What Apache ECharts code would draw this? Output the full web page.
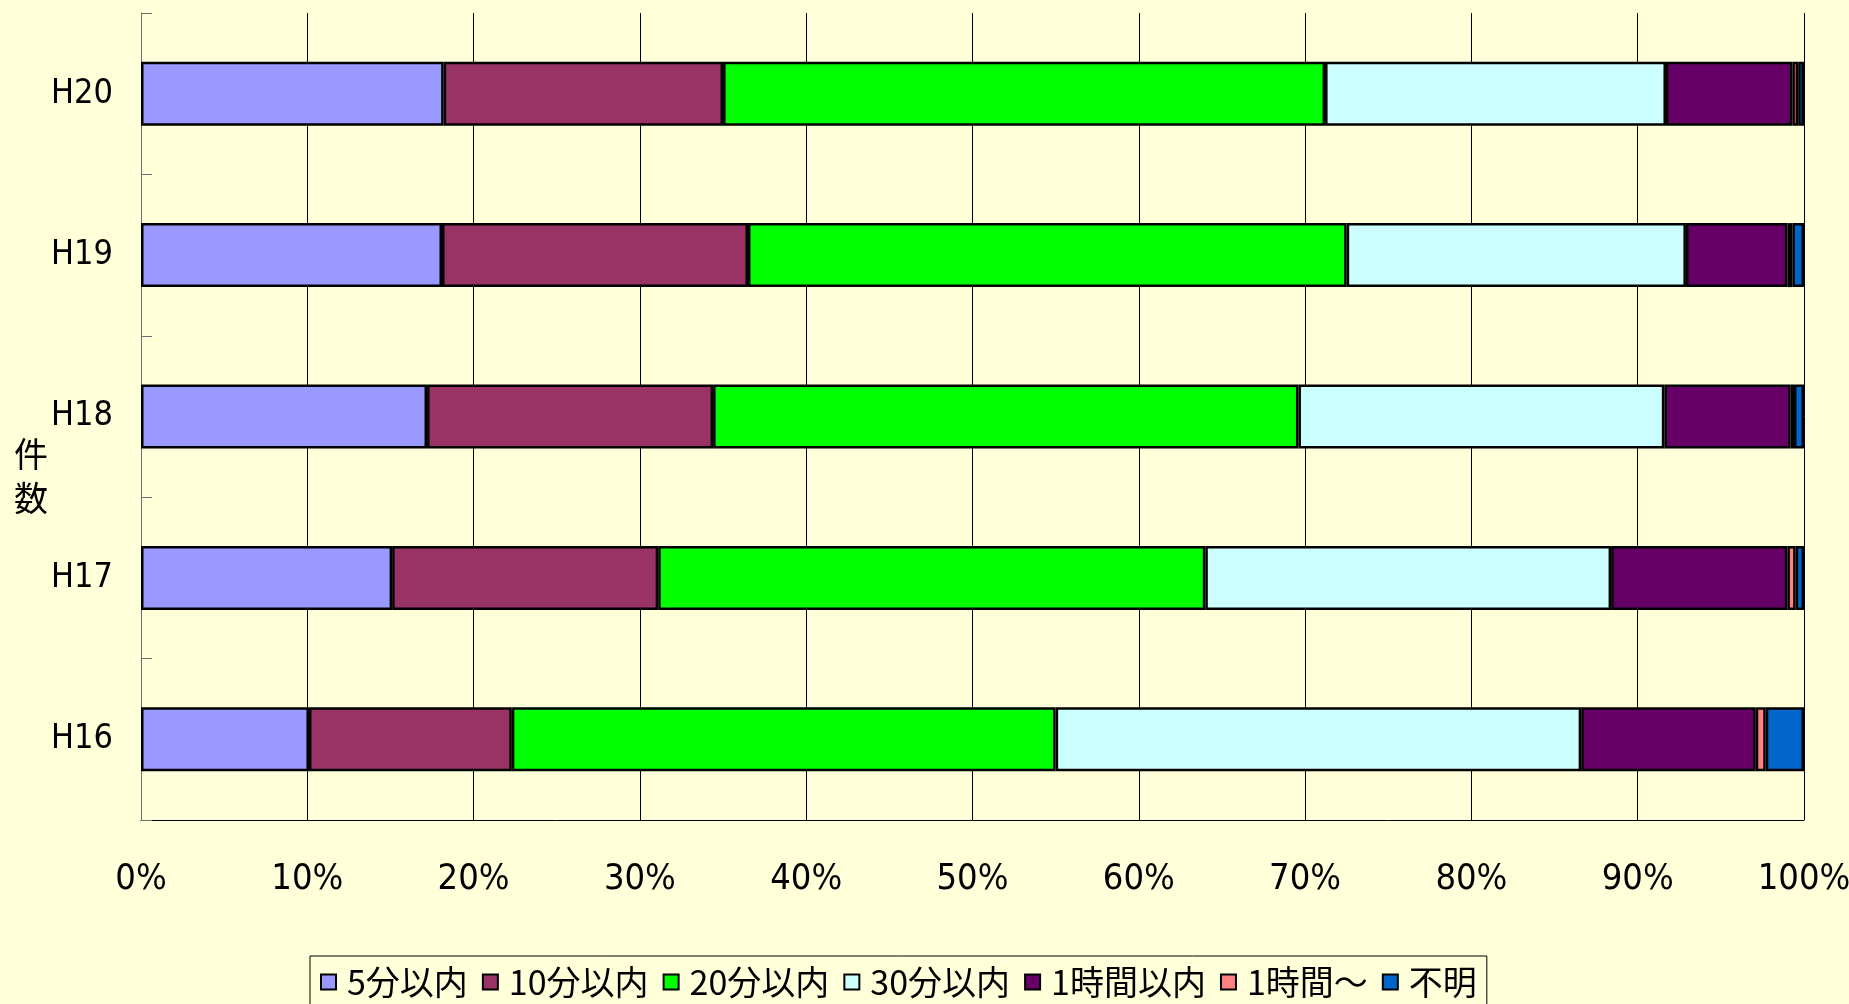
<!DOCTYPE html>
<html><head><meta charset="utf-8">
<script src="https://cdn.jsdelivr.net/npm/echarts@6/dist/echarts.min.js"></script>
<style>html,body{margin:0;padding:0;background:#FFFFDA;}#c{width:1849px;height:1004px;}</style>
</head><body><div id="c"></div>
<script>
const categories = ['H16','H17','H18','H19','H20'];
const seriesNames = ['5分以内','10分以内','20分以内','30分以内','1時間以内','1時間～','不明'];
const v5min   = [10.1, 15.1, 17.2, 18.1, 18.2];
const v10min  = [12.2, 16.0, 17.2, 18.4, 16.8];
const v20min  = [32.7, 32.9, 35.2, 36.0, 36.2];
const v30min  = [31.6, 24.4, 22.0, 20.4, 20.5];
const v1hIn   = [10.5, 10.6, 7.6, 6.1, 7.6];
const v1hOver = [0.6, 0.5, 0.2, 0.3, 0.35];
const vUnknown= [2.3, 0.5, 0.6, 0.7, 0.35];
const xTicks = [0,10,20,30,40,50,60,70,80,90,100];
const colors = ['#9999FF','#993366','#00FF00','#CCFFFF','#660066','#FF8080','#0066CC'];
const allData = [v5min, v10min, v20min, v30min, v1hIn, v1hOver, vUnknown];

const narrow = '"Liberation Sans Narrow","DejaVu Sans Condensed","Liberation Sans",sans-serif';
const chart = echarts.init(document.getElementById('c'));
chart.setOption({
  backgroundColor: '#FFFFDA',
  animation: false,
  color: colors,
  grid: {left: 141, right: 45, top: 13, bottom: 184, containLabel: false, outerBoundsMode: 'none'},
  legend: {
    left: 310, top: 956,
    padding: [9, 10, 9, 10],
    borderColor: '#000', borderWidth: 1,
    icon: 'rect',
    itemWidth: 15, itemHeight: 15, itemGap: 14,
    textStyle: {fontFamily: '"Noto Sans CJK JP"', fontSize: 34, color: '#000', padding: [0, 0, 0, 6]},
    data: seriesNames
  },
  xAxis: {
    type: 'value', min: 0, max: 100, interval: 10,
    axisLine: {show: true, lineStyle: {color: '#000', width: 1}},
    axisTick: {show: false},
    splitLine: {show: true, lineStyle: {color: '#000', width: 1}},
    axisLabel: {formatter: function(v){ return xTicks.indexOf(v) >= 0 ? v + '%' : ''; }, margin: 42, fontFamily: narrow, fontSize: 36, color: '#000'}
  },
  yAxis: {
    type: 'category', data: categories,
    axisLine: {show: true, lineStyle: {color: '#707070', width: 1}},
    axisTick: {show: true, inside: true, length: 11, lineStyle: {color: '#707070'}},
    axisLabel: {margin: 28, fontFamily: narrow, fontSize: 34, color: '#000'}
  },
  graphic: [{
    type: 'text', left: 14, top: 432,
    style: {text: '件\n数', font: '34px "Noto Sans CJK JP"', lineHeight: 44, fill: '#000'}
  }],
  series: seriesNames.map((n, i) => ({
    name: n, type: 'bar', stack: 'total', barWidth: 64,
    itemStyle: {color: colors[i], borderColor: '#000', borderWidth: 2.5},
    data: allData[i]
  }))
});
</script></body></html>
